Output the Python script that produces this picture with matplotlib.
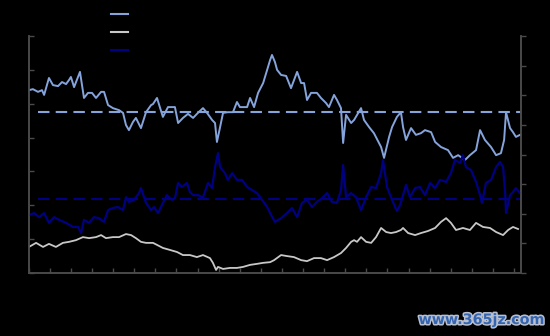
import matplotlib
matplotlib.use("Agg")
import matplotlib.pyplot as plt
import matplotlib.patheffects as pe
from matplotlib.lines import Line2D

# ---- data (x in months from start, y in left-axis units) ----
a_x = [0.01,0.20,0.44,0.63,0.73,0.96,1.15,1.39,1.58,1.77,1.91,2.00,2.15,2.43,2.62,2.81,3.00,3.19,3.43,3.57,3.76,3.99,4.28,4.47,4.61,4.75,4.94,5.08,5.32,5.56,5.80,5.89,
       6.08,6.36,6.60,6.93,7.08,7.31,7.55,7.79,8.02,8.26,8.45,8.69,8.83,8.92,9.07,9.21,9.44,9.68,9.87,10.01,10.35,10.49,10.68,10.87,11.11,11.30,11.44,11.53,
       11.67,11.77,11.96,12.20,12.43,12.72,12.91,13.05,13.19,13.38,13.66,13.85,14.09,14.23,14.47,14.61,14.80,14.90,15.04,15.28,15.42,15.75,15.89,16.13,16.36,16.70,16.84,17.08,17.22,17.45,17.64,
       17.74,17.88,18.12,18.35,18.59,18.78,19.07,19.26,19.54,19.87,20.11,20.35,20.68,20.91,21.20,21.39,21.62,21.91,22.15,22.38,22.53,22.62,22.81,22.95,23.09,23.28]
a_y = [5.40,5.43,5.35,5.40,5.26,5.76,5.55,5.52,5.64,5.58,5.70,5.79,5.49,5.94,5.17,5.32,5.32,5.17,5.35,5.35,4.96,4.87,4.81,4.73,4.37,4.22,4.46,4.58,4.28,4.75,4.96,4.99,
       5.17,4.61,4.90,4.90,4.43,4.58,4.70,4.58,4.73,4.87,4.73,4.52,4.43,3.87,4.31,4.73,4.75,4.75,5.05,4.90,4.90,5.17,4.90,5.32,5.61,6.00,6.29,6.44,
       6.23,6.00,5.85,5.82,5.46,5.94,5.61,5.61,5.11,5.32,5.32,5.17,5.02,4.90,5.26,5.11,4.87,3.84,4.67,4.43,4.52,4.87,4.52,4.31,4.13,3.72,3.40,4.02,4.31,4.61,4.75,
       4.31,3.93,4.28,4.08,4.13,4.22,4.16,3.87,3.72,3.63,3.40,3.48,3.34,3.48,3.63,4.22,3.93,3.72,3.48,3.54,3.93,4.75,4.28,4.16,4.02,4.08]

b_x = [0.01,0.25,0.49,0.73,0.96,1.20,1.44,1.77,2.10,2.34,2.48,2.62,2.86,3.09,3.33,3.57,3.76,3.99,4.23,4.47,4.61,4.75,4.99,5.23,5.32,5.56,5.80,5.94,
       6.13,6.36,6.55,6.79,6.93,7.08,7.26,7.50,7.64,7.79,8.02,8.26,8.50,8.69,8.83,8.97,9.07,9.30,9.44,9.64,9.87,10.11,10.35,10.58,10.82,11.06,11.30,11.44,11.67,
       11.96,12.24,12.48,12.72,12.95,13.19,13.43,13.66,13.90,14.14,14.37,14.61,14.80,14.90,15.04,15.28,15.51,15.75,15.99,16.23,16.46,16.70,16.79,16.98,17.22,17.45,
       17.60,17.74,17.88,18.07,18.31,18.54,18.78,19.02,19.26,19.49,19.78,20.01,20.20,20.44,20.58,20.72,20.96,21.20,21.39,21.48,21.67,21.91,22.15,22.34,22.48,22.58,22.62,22.81,22.95,23.09,23.28]
b_y = [1.71,1.77,1.65,1.77,1.48,1.65,1.57,1.48,1.36,1.36,1.18,1.57,1.48,1.65,1.62,1.51,1.86,1.92,1.95,1.86,2.24,2.10,2.16,2.36,2.51,2.07,1.86,1.95,
       1.77,2.07,2.30,2.16,2.21,2.66,2.54,2.66,2.39,2.30,2.30,2.24,2.66,2.51,3.13,3.54,3.13,2.95,2.75,2.95,2.75,2.75,2.54,2.45,2.36,2.16,1.95,1.77,1.51,
       1.62,1.77,1.92,1.65,2.07,2.16,1.95,2.10,2.21,2.36,2.10,2.07,2.45,3.19,2.24,2.36,2.24,1.86,2.24,2.54,2.51,2.95,3.34,2.54,2.16,1.83,
       2.01,2.30,2.60,2.24,2.51,2.54,2.30,2.66,2.51,2.75,2.69,2.95,3.34,3.25,3.48,3.13,3.04,2.69,2.30,2.07,2.66,2.75,3.13,3.28,3.13,2.36,1.77,2.30,2.39,2.51,2.36]

c_x = [0.01,0.35,0.68,0.96,1.29,1.62,1.91,2.24,2.57,2.86,3.19,3.43,3.66,3.99,4.28,4.61,4.85,5.08,5.32,5.56,5.89,
       6.08,6.36,6.70,7.03,7.31,7.64,7.97,8.26,8.59,8.73,8.88,8.97,9.21,9.54,9.87,10.16,10.49,10.82,11.11,11.44,
       11.63,11.96,12.24,12.57,12.91,13.19,13.52,13.85,14.14,14.47,14.80,15.04,15.28,15.42,15.56,15.75,15.99,16.23,16.46,16.70,16.94,17.17,17.41,17.64,
       17.74,17.98,18.31,18.59,18.92,19.26,19.54,19.78,20.01,20.25,20.58,20.91,21.20,21.53,21.86,22.15,22.48,22.72,22.95,23.19]
c_y = [0.77,0.89,0.77,0.86,0.77,0.89,0.92,0.97,1.06,1.03,1.06,1.12,1.03,1.06,1.06,1.15,1.12,1.03,0.92,0.89,0.89,
       0.83,0.74,0.68,0.62,0.53,0.53,0.47,0.53,0.44,0.30,0.09,0.18,0.12,0.15,0.15,0.18,0.24,0.27,0.30,0.32,
       0.38,0.53,0.50,0.47,0.38,0.35,0.44,0.44,0.38,0.47,0.59,0.74,0.92,0.97,0.92,1.06,0.92,0.89,1.06,1.33,1.21,1.18,1.21,1.27,
       1.33,1.18,1.12,1.18,1.24,1.33,1.51,1.62,1.48,1.27,1.33,1.27,1.48,1.36,1.33,1.21,1.12,1.27,1.36,1.30]

a_avg = 4.75
b_avg = 2.18

x_ticks = list(range(0, 24))
left_ticks = list(range(0, 8))
right_ticks = list(range(0, 9))
labels = ["", "", ""]

LIGHT = "#86a4dc"
GRAY = "#c8c8c8"
NAVY = "#000080"
SPINE = "#4a4a4a"

fig = plt.figure(figsize=(5.5, 3.36), dpi=100, facecolor="black")
ax = fig.add_axes([28.7/550, 1-273/336, (521-28.7)/550, (273-36)/336])
ax.set_facecolor("black")

la, = ax.plot(a_x, a_y, color=LIGHT, lw=1.4, zorder=3)
lc, = ax.plot(c_x, c_y, color=GRAY, lw=1.3, zorder=3)
lb, = ax.plot(b_x, b_y, color=NAVY, lw=1.6, zorder=4)
ax.axhline(a_avg, xmin=0.018, color=LIGHT, lw=1.5, dashes=(5.5, 3), zorder=2)
ax.axhline(b_avg, xmin=0.018, color=NAVY, lw=1.5, dashes=(5.5, 3), zorder=2)

ax.set_xlim(0, 23.33)
ax.set_ylim(0, 7)
ax.set_xticks(x_ticks)
ax.set_yticks(left_ticks)
ax.tick_params(axis="both", direction="in", length=3.5, width=1, color=SPINE,
               labelbottom=False, labelleft=False)
for s in ["left", "bottom", "right"]:
    ax.spines[s].set_color(SPINE)
    ax.spines[s].set_linewidth(1.2)
ax.spines["top"].set_visible(False)

ax2 = ax.twinx()
ax2.set_ylim(0, 8)
ax2.set_yticks(right_ticks)
ax2.tick_params(axis="y", direction="out", length=3.5, width=1, color=SPINE, labelright=False)
for s in ["left", "bottom", "right"]:
    ax2.spines[s].set_color(SPINE)
    ax2.spines[s].set_linewidth(1.2)
ax2.spines["top"].set_visible(False)

handles = [Line2D([], [], color=LIGHT, lw=1.5),
           Line2D([], [], color=GRAY, lw=1.5),
           Line2D([], [], color=NAVY, lw=1.5)]
fig.legend(handles, labels, loc="upper left", bbox_to_anchor=(111/550, 1-8/336),
           frameon=False, fontsize=10, handlelength=1.2, labelspacing=0.27,
           borderpad=0, borderaxespad=0, handletextpad=0.4, labelcolor="black")

fig.text(544/550, 1-320/336, "www.365jz.com", ha="right", va="center",
         fontsize=10.3, fontweight="bold", color="#3565b0", family="DejaVu Sans",
         path_effects=[pe.withStroke(linewidth=2.2, foreground="#b8c0d0")])

fig.savefig("out.png", dpi=100, facecolor="black")
